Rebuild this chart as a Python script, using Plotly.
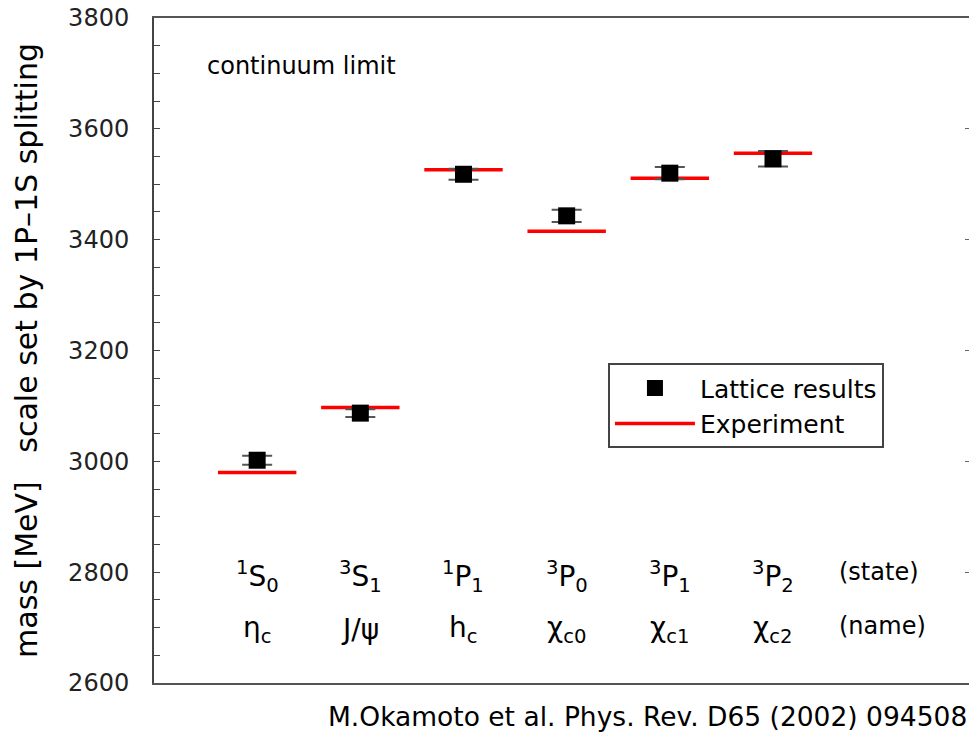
import plotly.graph_objects as go

states = ["<sup>1</sup>S<sub>0</sub>", "<sup>3</sup>S<sub>1</sub>", "<sup>1</sup>P<sub>1</sub>",
          "<sup>3</sup>P<sub>0</sub>", "<sup>3</sup>P<sub>1</sub>", "<sup>3</sup>P<sub>2</sub>"]
names = ["η<sub>c</sub>", "J/ψ", "h<sub>c</sub>", "χ<sub>c0</sub>", "χ<sub>c1</sub>", "χ<sub>c2</sub>"]
lattice = [3002, 3087, 3518, 3443, 3520, 3546]
lattice_err = [8, 7, 10, 11, 11, 14]
experiment = [2980, 3097, 3526, 3415, 3511, 3556]

xpos = list(range(1, len(states) + 1))
half = 0.38

FONT = "DejaVu Sans"

fig = go.Figure()

# Experiment lines
ex, ey = [], []
for x, v in zip(xpos, experiment):
    ex += [x - half, x + half, None]
    ey += [v, v, None]
fig.add_trace(go.Scatter(x=ex, y=ey, mode="lines", name="Experiment",
                         line=dict(color="#ff0000", width=3.5)))

# Lattice
fig.add_trace(go.Scatter(x=xpos, y=lattice, mode="markers", name="Lattice results",
                         marker=dict(symbol="square", size=17, color="black"),
                         error_y=dict(type="data", array=lattice_err, visible=True,
                                      color="#555555", thickness=2, width=15)))

# right ticks (mirror without line)
fig.add_trace(go.Scatter(x=[None], y=[None], yaxis="y2", showlegend=False))

annotations = []
for x, s, n in zip(xpos, states, names):
    annotations.append(dict(x=x, y=2793, xref="x", yref="y", text=s, showarrow=False,
                            font=dict(family=FONT, size=28, color="black")))
    annotations.append(dict(x=x, y=2696, xref="x", yref="y", text=n, showarrow=False,
                            font=dict(family=FONT, size=28, color="black")))
annotations += [
    dict(x=6.62, y=2800, xref="x", yref="y", text="(state)", showarrow=False, xanchor="left",
         font=dict(family=FONT, size=24, color="black")),
    dict(x=6.62, y=2702, xref="x", yref="y", text="(name)", showarrow=False, xanchor="left",
         font=dict(family=FONT, size=24, color="black")),
    dict(x=0.49, y=3713, xref="x", yref="y", text="continuum limit", showarrow=False, xanchor="left",
         font=dict(family=FONT, size=24, color="black")),
    dict(x=1.0, y=-0.077, xref="paper", yref="paper", text="M.Okamoto et al. Phys. Rev. D65 (2002) 094508",
         showarrow=False, xanchor="right", yanchor="bottom",
         font=dict(family=FONT, size=26.5, color="black")),
]

fig.update_layout(
    width=969, height=735,
    margin=dict(l=154, r=0, t=18, b=52),
    paper_bgcolor="white", plot_bgcolor="white",
    showlegend=True,
    legend=dict(x=0.557, y=0.481, xanchor="left", yanchor="top",
                bordercolor="#444444", borderwidth=2, bgcolor="white",
                traceorder="reversed",
                font=dict(family=FONT, size=25, color="black"),
                itemwidth=80, entrywidth=200, entrywidthmode="pixels"),
    xaxis=dict(range=[0, 7.9], showgrid=False, zeroline=False, showticklabels=False, ticks="",
               showline=True, linecolor="#555555", linewidth=2, mirror=True),
    yaxis=dict(range=[2600, 3800], dtick=200, showgrid=False, zeroline=False,
               ticks="inside", ticklen=6, tickcolor="#444444", tickwidth=1,
               minor=dict(dtick=50, ticks="inside", ticklen=6, tickcolor="#444444"),
               showline=True, linecolor="#444444", linewidth=2,
               ticklabelstandoff=18,
               tickfont=dict(family=FONT, size=24, color="#222222"),
               title=dict(text="mass [MeV]   scale set by 1P\u20131S splitting",
                          font=dict(family=FONT, size=30, color="black"), standoff=22)),
    yaxis2=dict(range=[2600, 3800], dtick=200, overlaying="y", side="right",
                showgrid=False, zeroline=False, showline=False, showticklabels=False,
                ticks="inside", ticklen=4, tickcolor="#666666"),
    annotations=annotations,
)

fig.write_html("out.html")
